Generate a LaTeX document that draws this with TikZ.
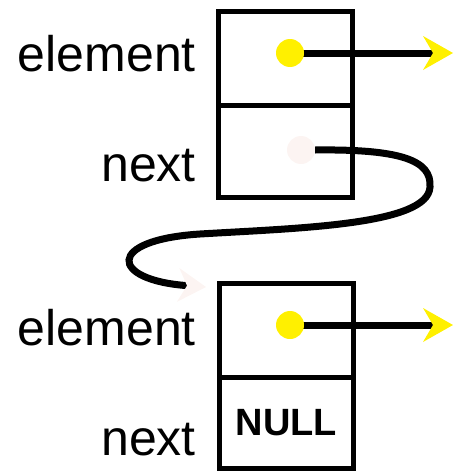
\documentclass[tikz,border=0pt]{standalone}
\usepackage{fontspec}
\setmainfont{Liberation Sans}
\usetikzlibrary{arrows.meta}
\definecolor{ptryellow}{RGB}{255,240,0}
\definecolor{faint}{RGB}{252,244,242}
\begin{document}
\begin{tikzpicture}[x=1pt,y=-1pt,
  cell/.style={draw=black,line width=5pt,minimum width=134pt,inner sep=0pt,outer sep=0pt},
  lbl/.style={anchor=base east,inner sep=0pt,font=\fontsize{50}{60}\selectfont},
  dot/.style={circle,fill=ptryellow,minimum size=28pt,inner sep=0pt},
  pale/.style={circle,fill=faint,minimum size=28pt,inner sep=0pt},
  ptr/.style={line width=7pt,-{Stealth[length=30pt,width=34pt,inset=10pt,color=ptryellow,line width=0pt]}},
  link/.style={line width=7pt,-{Stealth[length=28pt,width=34pt,inset=9pt,color=faint,line width=0pt]}}]
\useasboundingbox (0,0) rectangle (453,471);
% first list node
\node[cell,minimum height=94pt] (e1) at (285,58) {};
\node[cell,minimum height=92pt] (n1) at (285,151) {};
% second list node
\node[cell,minimum height=94pt] (e2) at (286.5,330) {};
\node[cell,minimum height=91pt] (n2) at (286.5,422.5) {\fontsize{38}{44}\selectfont\bfseries NULL};
% labels
\node[lbl] (l1) at (196,71) {element};
\node[lbl] (l2) at (196,181) {next};
\node[lbl] (l3) at (196,345) {element};
\node[lbl] (l4) at (196,455) {next};
% pointers
\coordinate (t1) at (453,53);
\coordinate (t2) at (453,325);
\coordinate (t3) at (206,287);
\draw[ptr] (290,53) -- (t1);
\node[dot] (d1) at (290,53) {};
\draw[ptr] (290,325) -- (t2);
\node[dot] (d2) at (290,325) {};
\node[pale] (p1) at (301,150) {};
\draw[link] (p1.east) .. controls (400,149) and (432,160) .. (430,187)
  .. controls (428,225) and (300,228) .. (200,234)
  .. controls (105,240) and (110,280) .. (t3);
\end{tikzpicture}
\end{document}
